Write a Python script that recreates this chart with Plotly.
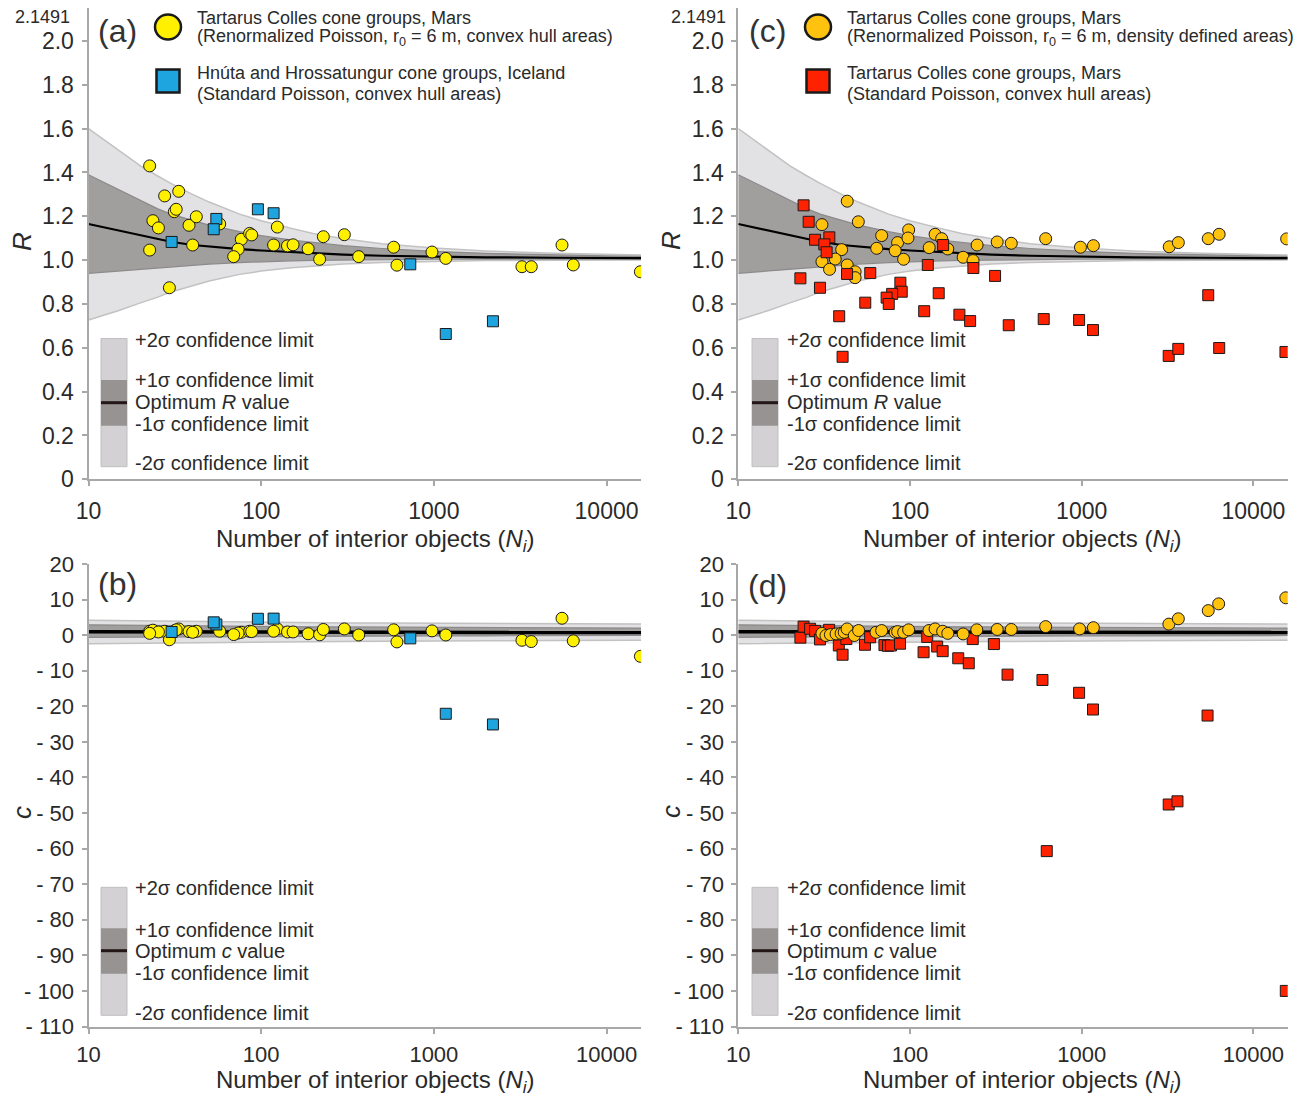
import plotly.graph_objects as go

W, H = 1305, 1096
def fx(x): return x / W
def fy(y): return 1 - y / H

# ---------------- data ----------------
# confidence envelopes
N_band = [10, 15, 20, 25, 30, 40, 50, 75, 100, 150, 200, 300, 500, 1000, 2000, 5000, 10000, 15850]
R_opt = [1.165, 1.135, 1.113, 1.097, 1.084, 1.069, 1.062, 1.050, 1.044, 1.037, 1.032, 1.025, 1.020, 1.015, 1.013, 1.011, 1.010, 1.009]
R_p1 = [1.390, 1.320, 1.270, 1.235, 1.210, 1.180, 1.160, 1.130, 1.112, 1.092, 1.080, 1.066, 1.053, 1.040, 1.031, 1.023, 1.019, 1.017]
R_m1 = [0.940, 0.950, 0.958, 0.965, 0.970, 0.977, 0.982, 0.989, 0.993, 0.997, 0.999, 1.001, 1.003, 1.004, 1.005, 1.005, 1.005, 1.004]
R_p2 = [1.600, 1.500, 1.430, 1.385, 1.350, 1.300, 1.265, 1.210, 1.180, 1.145, 1.122, 1.098, 1.075, 1.055, 1.042, 1.031, 1.026, 1.023]
R_m2 = [0.727, 0.770, 0.805, 0.830, 0.855, 0.885, 0.905, 0.935, 0.950, 0.965, 0.973, 0.982, 0.989, 0.995, 0.998, 1.000, 1.001, 1.001]

c_opt = [0.95, 0.93, 0.91, 0.90, 0.89, 0.87, 0.86, 0.84, 0.83, 0.81, 0.80, 0.79, 0.78, 0.76, 0.75, 0.74, 0.73, 0.72]
c_p1 = [2.9, 2.8, 2.75, 2.7, 2.65, 2.6, 2.55, 2.5, 2.45, 2.4, 2.35, 2.3, 2.25, 2.2, 2.15, 2.1, 2.05, 2.0]
c_m1 = [-0.6, -0.55, -0.5, -0.48, -0.45, -0.4, -0.38, -0.35, -0.32, -0.3, -0.28, -0.25, -0.22, -0.2, -0.18, -0.15, -0.12, -0.1]
c_p2 = [4.2, 4.1, 4.0, 3.95, 3.9, 3.8, 3.75, 3.7, 3.6, 3.55, 3.5, 3.45, 3.4, 3.35, 3.3, 3.25, 3.2, 3.1]
c_m2 = [-2.4, -2.3, -2.25, -2.2, -2.15, -2.1, -2.05, -2.0, -1.95, -1.9, -1.85, -1.8, -1.7, -1.65, -1.6, -1.5, -1.45, -1.4]

# (a)/(b) Tartarus Colles, renormalized Poisson, convex hull areas
N_mars_hull = [22.6, 27.6, 33.3, 31.4, 32.2, 23.6, 25.4, 38.2, 42.1, 57.5, 22.6, 40.1, 29.4, 76.7, 85.7, 88.1,
               73.5, 69.3, 124, 118, 142, 153, 187, 218, 229, 303, 367, 585, 611, 975, 1172, 3236, 3664,
               5520, 6416, 15700]
R_mars_hull = [1.430, 1.293, 1.314, 1.221, 1.232, 1.180, 1.147, 1.159, 1.198, 1.165, 1.046, 1.069, 0.874, 1.095,
               1.122, 1.115, 1.050, 1.016, 1.151, 1.069, 1.065, 1.070, 1.052, 1.004, 1.107, 1.116, 1.016, 1.059,
               0.977, 1.037, 1.008, 0.970, 0.970, 1.069, 0.978, 0.947]
c_mars_hull = [1.1, 1.1, 1.75, 1.2, 1.5, 1.4, 0.9, 1.0, 1.1, 1.1, 0.5, 0.8, -1.3, 0.8, 1.1, 1.0, 0.6, 0.15,
               1.75, 1.1, 0.9, 0.9, 0.4, 0.1, 1.6, 1.75, 0.05, 1.5, -1.9, 1.2, 0.05, -1.45, -1.8, 4.75, -1.6, -5.95]

# (a)/(b) Iceland, standard Poisson
N_iceland = [30.3, 55, 53.1, 95.7, 118, 730, 1172, 2198]
R_iceland = [1.083, 1.188, 1.141, 1.232, 1.214, 0.981, 0.663, 0.721]
c_iceland = [0.9, 3.0, 3.6, 4.6, 4.65, -0.9, -22.1, -25.1]

# (c) Tartarus Colles, renormalized Poisson, density defined areas
N_mars_dens_R = [43.1, 50.0, 30.7, 40.0, 36.7, 30.7, 34.0, 43.1, 47.9, 47.9, 68.4, 64.0, 84.7, 82.0, 98.2, 97.3,
                 91.8, 129.4, 140, 153, 166, 204, 233, 246, 322, 389, 617, 984, 1170, 3236, 3656, 5460, 6320, 15630]
R_mars_dens = [1.269, 1.175, 1.162, 1.048, 1.005, 0.993, 0.958, 0.978, 0.947, 0.920, 1.112, 1.054, 1.080, 1.043,
               1.138, 1.101, 1.004, 1.057, 1.118, 1.098, 1.051, 1.013, 0.998, 1.069, 1.083, 1.077, 1.098, 1.059,
               1.066, 1.061, 1.080, 1.098, 1.118, 1.097]

# (c) Tartarus Colles, standard Poisson, convex hull areas
N_mars_std_R = [24.0, 25.7, 28.0, 33.9, 31.7, 32.7, 23.0, 29.9, 43.0, 58.7, 38.7, 54.9, 87.9, 89.5, 78.7, 73.1,
                75.2, 127, 147, 121, 156, 194, 224, 234, 313, 376, 601, 40.5, 966, 1164, 3213, 3653, 5460, 6324, 15380]
R_mars_std = [1.250, 1.175, 1.093, 1.104, 1.072, 1.036, 0.917, 0.874, 0.937, 0.941, 0.744, 0.806, 0.897, 0.856,
              0.846, 0.829, 0.800, 0.978, 0.849, 0.767, 1.069, 0.751, 0.722, 0.964, 0.928, 0.703, 0.731, 0.559,
              0.727, 0.681, 0.563, 0.595, 0.840, 0.599, 0.581]

# (d)
N_mars_dens_c = [30.7, 32.4, 34.4, 37.1, 39.7, 41.4, 43.0, 47.4, 50.2, 63.4, 68.4, 82.0, 84.7, 91.8, 98.2, 129,
                 140, 155, 166, 204, 245, 322, 389, 617, 972, 1170, 3221, 3656, 5460, 6280, 15450]
c_mars_dens = [0.5, -0.1, 0.15, 0.35, 0.5, 0.8, 1.75, -0.1, 1.3, 0.8, 1.3, 0.8, 1.0, 0.8, 1.5, 1.3, 1.75, 1.1,
               0.5, 0.35, 1.5, 1.6, 1.6, 2.4, 1.75, 2.1, 3.1, 4.6, 6.9, 8.8, 10.5]
N_mars_std_c = [23.0, 24.0, 26.2, 28.0, 29.9, 33.8, 38.5, 40.5, 42.6, 54.7, 58.6, 71.0, 74.4, 77.5, 87.5, 120,
                126, 144, 155, 191, 220, 232, 308, 370, 591, 626, 966, 1164, 3213, 3614, 5410, 15450]
c_mars_std = [-0.7, 2.4, 1.8, 1.2, -1.2, 1.5, -2.9, -5.5, -1.1, -2.7, -0.6, -2.8, -3.0, -2.9, -2.4, -4.8, -0.5,
              -3.2, -4.5, -6.5, -7.9, -1.1, -2.5, -11.1, -12.6, -60.7, -16.2, -20.9, -47.6, -46.7, -22.6, -100.0]

x_ticks = [10, 100, 1000, 10000]
R_ticks = [0, 0.2, 0.4, 0.6, 0.8, 1.0, 1.2, 1.4, 1.6, 1.8, 2.0]
R_ticktext = ["0", "0.2", "0.4", "0.6", "0.8", "1.0", "1.2", "1.4", "1.6", "1.8", "2.0"]
c_ticks = [20, 10, 0, -10, -20, -30, -40, -50, -60, -70, -80, -90, -100, -110]
c_ticktext = [str(v) if v >= 0 else "- " + str(-v) for v in c_ticks]

# ---------------- style ----------------
YELLOW = "#fff000"
BLUE = "#1ea5e0"
ORANGE = "#ffc20e"
RED = "#ff2200"
LIGHT = "#e2e1e3"
DARK = "#a19e9e"
AXC = "#a8a8a8"
TXT = "#2a2a2a"
FONT = "Liberation Sans, Arial, sans-serif"
TICKFONT = "Liberation Sans Narrow, Arial Narrow, Liberation Sans, sans-serif"

fig = go.Figure()

def add_band(xa, ya, opt, p1, m1, p2, m2, lw):
    kw = dict(xaxis=xa, yaxis=ya, mode="lines", showlegend=False, hoverinfo="skip")
    fig.add_trace(go.Scatter(x=N_band, y=m2, line=dict(color="#c2c2c2", width=1.5), **kw))
    fig.add_trace(go.Scatter(x=N_band, y=p2, line=dict(color="#c2c2c2", width=1.5),
                             fill="tonexty", fillcolor=LIGHT, **kw))
    fig.add_trace(go.Scatter(x=N_band, y=m1, line=dict(color="#8c8a8a", width=1.2), **kw))
    fig.add_trace(go.Scatter(x=N_band, y=p1, line=dict(color="#8c8a8a", width=1.2),
                             fill="tonexty", fillcolor=DARK, **kw))
    fig.add_trace(go.Scatter(x=N_band, y=opt, line=dict(color="black", width=lw), **kw))

def add_pts(xa, ya, xs, ys, color, symbol, size):
    fig.add_trace(go.Scatter(x=xs, y=ys, xaxis=xa, yaxis=ya, mode="markers", showlegend=False,
                             marker=dict(color=color, symbol=symbol, size=size,
                                         line=dict(color="#1a1a1a", width=1))))

# (a)
add_band("x", "y", R_opt, R_p1, R_m1, R_p2, R_m2, 2.2)
add_pts("x", "y", N_mars_hull, R_mars_hull, YELLOW, "circle", 12)
add_pts("x", "y", N_iceland, R_iceland, BLUE, "square", 11)
# (c)
add_band("x2", "y2", R_opt, R_p1, R_m1, R_p2, R_m2, 2.2)
add_pts("x2", "y2", N_mars_dens_R, R_mars_dens, ORANGE, "circle", 12)
add_pts("x2", "y2", N_mars_std_R, R_mars_std, RED, "square", 11)
# (b)
add_band("x3", "y3", c_opt, c_p1, c_m1, c_p2, c_m2, 3.5)
add_pts("x3", "y3", N_mars_hull, c_mars_hull, YELLOW, "circle", 12)
add_pts("x3", "y3", N_iceland, c_iceland, BLUE, "square", 11)
# (d)
add_band("x4", "y4", c_opt, c_p1, c_m1, c_p2, c_m2, 3.5)
add_pts("x4", "y4", N_mars_std_c, c_mars_std, RED, "square", 11)
add_pts("x4", "y4", N_mars_dens_c, c_mars_dens, ORANGE, "circle", 12)

def xaxis(dom, anchor, standoff, fsize):
    return dict(domain=dom, anchor=anchor, type="log", range=[1, 4.2], tickvals=x_ticks,
                ticktext=[str(v) for v in x_ticks], showgrid=False, zeroline=False, showline=True,
                linecolor=AXC, linewidth=2, ticks="outside", ticklen=5, tickwidth=1.5, tickcolor=AXC,
                tickfont=dict(family=TICKFONT, size=fsize, color=TXT), ticklabelstandoff=standoff,
                automargin=False)

def yaxis(dom, anchor, rng, tv, tt, fsize):
    return dict(domain=dom, anchor=anchor, range=rng, tickvals=tv, ticktext=tt, showgrid=False,
                zeroline=False, showline=True, linecolor=AXC, linewidth=2, ticks="outside", ticklen=5,
                tickwidth=1.5, tickcolor=AXC, tickfont=dict(family=TICKFONT, size=fsize, color=TXT),
                ticklabelstandoff=3, automargin=False)

XL = [fx(88.5), fx(641.1)]
XR = [fx(738.3), fx(1287.7)]
YT = [fy(479.3), fy(8.3)]
YB = [fy(1026.5), fy(564)]

fig.update_layout(
    template="none",
    width=W, height=H, autosize=False, margin=dict(l=0, r=0, t=0, b=0, pad=0),
    paper_bgcolor="white", plot_bgcolor="white", showlegend=False,
    xaxis=xaxis(XL, "y", 5, 23), yaxis=yaxis(YT, "x", [0, 2.1491], R_ticks, R_ticktext, 23),
    xaxis2=xaxis(XR, "y2", 5, 23), yaxis2=yaxis(YT, "x2", [0, 2.1491], R_ticks, R_ticktext, 23),
    xaxis3=xaxis(XL, "y3", 2, 22), yaxis3=yaxis(YB, "x3", [-110, 20], c_ticks, c_ticktext, 22),
    xaxis4=xaxis(XR, "y4", 2, 22), yaxis4=yaxis(YB, "x4", [-110, 20], c_ticks, c_ticktext, 22),
)

ann = []
shapes = []

def text(x, y, s, size, xanchor="left", angle=0, color=TXT, family=FONT):
    ann.append(dict(x=fx(x), y=fy(y), xref="paper", yref="paper", text=s, showarrow=False,
                    xanchor=xanchor, yanchor="middle", textangle=angle,
                    font=dict(family=family, size=size, color=color)))

# 2.1491 labels
text(72, 17, "2.1491", 18, "right", family=TICKFONT)
text(728, 17, "2.1491", 18, "right", family=TICKFONT)

# panel letters
text(118, 31, "(a)", 32, "center", color="#333333")
text(767, 31, "(c)", 32, "center", color="#333333")
text(118, 584, "(b)", 32, "center", color="#333333")
text(767, 586, "(d)", 32, "center", color="#333333")

# axis titles
xt = "Number of interior objects (<i>N<sub>i</sub></i>)"
text(375, 540, xt, 24, "center")
text(1022, 540, xt, 24, "center")
text(375, 1081, xt, 24, "center")
text(1022, 1081, xt, 24, "center")
text(22, 241, "<i>R</i>", 26, "center", angle=-90)
text(671, 241, "<i>R</i>", 26, "center", angle=-90)
text(22, 812, "<i>c</i>", 26, "center", angle=-90)
text(671, 812, "<i>c</i>", 26, "center", angle=-90)

# top legends
def marker_shape(kind, cx, cy, w, h, color):
    shapes.append(dict(type=kind, xref="paper", yref="paper", xsizemode="pixel", ysizemode="pixel",
                       xanchor=fx(cx), yanchor=fy(cy), x0=-w / 2, x1=w / 2, y0=-h / 2, y1=h / 2,
                       fillcolor=color, line=dict(color="#1a1a1a", width=2.5), layer="above"))

marker_shape("circle", 168, 27, 26, 25, YELLOW)
marker_shape("rect", 168, 81, 23, 23, BLUE)
text(195, 18.5, "Tartarus Colles cone groups, Mars", 18)
text(195, 38, "(Renormalized Poisson, r<sub>0</sub> = 6 m, convex hull areas)", 18)
text(195, 73.5, "Hnúta and Hrossatungur cone groups, Iceland", 18)
text(195, 94.5, "(Standard Poisson, convex hull areas)", 18)

marker_shape("circle", 818, 27, 26, 25, ORANGE)
marker_shape("rect", 818, 81, 23, 23, RED)
text(845, 18.5, "Tartarus Colles cone groups, Mars", 18)
text(845, 38, "(Renormalized Poisson, r<sub>0</sub> = 6 m, density defined areas)", 18)
text(845, 73.5, "Tartarus Colles cone groups, Mars", 18)
text(845, 94.5, "(Standard Poisson, convex hull areas)", 18)

# confidence legends
def conf_legend(x0, x1, tx, y_top, y_d0, y_line, y_d1, y_bot, ys, var):
    shapes.append(dict(type="rect", xref="paper", yref="paper", x0=fx(x0), x1=fx(x1), y0=fy(y_bot),
                       y1=fy(y_top), fillcolor="#d3d1d3", line=dict(color="#c0c0c0", width=1)))
    shapes.append(dict(type="rect", xref="paper", yref="paper", x0=fx(x0), x1=fx(x1), y0=fy(y_d1),
                       y1=fy(y_d0), fillcolor="#979393", line=dict(width=0)))
    shapes.append(dict(type="line", xref="paper", yref="paper", x0=fx(x0), x1=fx(x1), y0=fy(y_line),
                       y1=fy(y_line), line=dict(color="#231616", width=3)))
    labels = ["+2σ confidence limit", "+1σ confidence limit", "Optimum <i>%s</i> value" % var,
              "-1σ confidence limit", "-2σ confidence limit"]
    for s, y in zip(labels, ys):
        text(tx, y, s, 20)

conf_legend(101, 127, 133, 338.5, 380, 402.7, 425.7, 466.7, [340, 380, 401.7, 424, 463], "R")
conf_legend(752, 778, 785, 338.5, 380, 402.7, 425.7, 466.7, [340, 380, 401.7, 424, 463], "R")
conf_legend(101, 127, 133, 887.3, 928.3, 950.7, 973.7, 1015.3, [888.3, 930, 950.7, 973.3, 1012.7], "c")
conf_legend(752, 778, 785, 887.3, 928.3, 950.7, 973.7, 1015.3, [888.3, 930, 950.7, 973.3, 1012.7], "c")

fig.update_layout(annotations=ann, shapes=shapes)
fig.write_html("out.html", config={"displayModeBar": False},
               post_script="document.body.style.margin='0';document.body.style.overflow='hidden';")
